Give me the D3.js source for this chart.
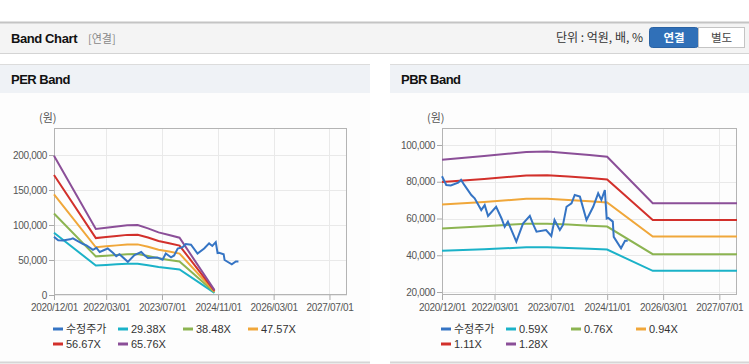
<!DOCTYPE html>
<html>
<head>
<meta charset="utf-8">
<script src="https://cdn.jsdelivr.net/npm/d3@7"></script>
<style>
  body { margin: 0; background: #fff; }
  svg { display: block; }
  .tick text { font-family: "Liberation Sans", Arial, sans-serif; font-size: 10px; fill: #555; letter-spacing: -0.3px; }
</style>
</head>
<body>
<svg id="chart" width="749" height="364"></svg>
<script>
const parse = d3.timeParse('%Y-%m-%d');

// 수정주가 - same series in both panels
const priceDates = ['2020-12-01','2021-01-07','2021-02-15','2021-04-20','2021-05-15','2021-06-15',
  '2021-08-12','2021-09-10','2021-11-06','2021-12-06','2022-01-04','2022-03-15','2022-05-01',
  '2022-05-28','2022-06-25','2022-09-06','2022-11-03','2023-01-01','2023-02-01','2023-02-28',
  '2023-05-22','2023-07-06','2023-08-03','2023-09-18','2023-10-15','2023-11-15','2023-12-28',
  '2024-01-25','2024-03-10','2024-05-06','2024-07-03','2024-08-15','2024-09-12','2024-10-12',
  '2024-10-28','2024-11-10','2024-12-20','2024-12-28','2025-03-01','2025-04-05','2025-04-28'];
const priceValues = [83000, 78200, 78000, 79500, 81000, 78000,
  72800, 71000, 64600, 67300, 61400, 66400, 60000,
  55500, 58300, 47400, 57200, 61400, 56500, 52800,
  53700, 50500, 59200, 53700, 56500, 66400, 68300,
  72800, 71900, 59200, 66400, 73700, 70100, 75500,
  60000, 60300, 58300, 50000, 43800, 47900, 47900];

// PER band
const perDates = ['2020-12-01','2021-12-01','2022-03-01','2022-06-01','2022-09-01','2022-12-01',
  '2023-03-01','2023-06-01','2023-09-01','2023-12-01','2024-10-01'];
const perLabels = ['29.38X', '38.48X', '47.57X', '56.67X', '65.76X'];
const per2938 = [88900, 42100, 42900, 43800, 44500, 44700, 42500, 40000, 38300, 36600, 3100];
const per3848 = [116400, 55200, 56200, 57300, 58300, 58500, 55700, 52400, 50100, 47900, 4100];
const per4757 = [143900, 68200, 69500, 70900, 72100, 72300, 68900, 64700, 62000, 59200, 5000];
const per5667 = [171500, 81300, 82700, 84400, 85900, 86100, 82100, 77100, 73800, 70600, 6000];
const per6576 = [199000, 94300, 96000, 98000, 99600, 100000, 95200, 89500, 85700, 81900, 7000];
const perYTicks = [0, 50000, 100000, 150000, 200000];

// PBR band
const pbrDates = ['2020-12-01','2021-12-01','2022-12-01','2023-06-01','2023-12-01','2024-06-01',
  '2024-11-01','2025-12-01','2027-12-01'];
const pbrLabels = ['0.59X', '0.76X', '0.94X', '1.11X', '1.28X'];
const pbr059 = [42400, 43300, 44300, 44400, 44000, 43600, 43100, 31500, 31500];
const pbr076 = [54600, 55800, 57100, 57200, 56700, 56100, 55600, 40600, 40600];
const pbr094 = [67600, 69000, 70700, 70800, 70100, 69400, 68700, 50200, 50200];
const pbr111 = [79800, 81500, 83400, 83600, 82800, 82000, 81200, 59200, 59200];
const pbr128 = [92000, 94000, 96200, 96400, 95500, 94500, 93600, 68300, 68300];
const pbrYTicks = [20000, 40000, 60000, 80000, 100000];

const xTicks = ['2020-12-01', '2022-03-01', '2023-07-01', '2024-11-01', '2026-03-01', '2027-07-01'];
const xDomain = ['2020-12-01', '2027-12-01'];

const priceColor = '#3574c4';
const bandColors = ['#1bb2c8', '#8cb451', '#f0a73a', '#d2302b', '#8b4f98'];

const svg = d3.select('#chart');
const kr = '"Noto Sans CJK KR", "Noto Sans", sans-serif';
const latin = '"Liberation Sans", Arial, sans-serif';

// top header bar
svg.append('rect').attr('x', 0).attr('y', 22).attr('width', 749).attr('height', 31).attr('fill', '#f4f4f4');
svg.append('line').attr('x1', 0).attr('x2', 749).attr('y1', 22.5).attr('y2', 22.5)
  .attr('stroke', '#c4c4c4').attr('stroke-width', 2);
svg.append('line').attr('x1', 0).attr('x2', 749).attr('y1', 53.5).attr('y2', 53.5)
  .attr('stroke', '#d4d4d4');
svg.append('text').attr('x', 11).attr('y', 43).text('Band Chart')
  .style('font-family', latin).style('font-weight', 'bold').style('font-size', '13px')
  .style('letter-spacing', '-0.4px').attr('fill', '#111');
svg.append('text').attr('x', 88).attr('y', 43).text('[연결]')
  .style('font-family', kr).style('font-size', '11px').attr('fill', '#888');
svg.append('text').attr('x', 643).attr('y', 42).attr('text-anchor', 'end').text('단위 : 억원, 배, %')
  .style('font-family', kr).style('font-size', '12px').attr('fill', '#333');
svg.append('rect').attr('x', 649.5).attr('y', 27.5).attr('width', 49).attr('height', 20).attr('rx', 3)
  .attr('fill', '#3070b8').attr('stroke', '#2a62a3');
svg.append('text').attr('x', 674).attr('y', 42).attr('text-anchor', 'middle').text('연결')
  .style('font-family', kr).style('font-weight', 'bold').style('font-size', '11.5px').attr('fill', '#fff');
svg.append('rect').attr('x', 698.5).attr('y', 27.5).attr('width', 46).attr('height', 20)
  .attr('fill', '#fff').attr('stroke', '#c4c4c4');
svg.append('text').attr('x', 721.5).attr('y', 42).attr('text-anchor', 'middle').text('별도')
  .style('font-family', kr).style('font-size', '11.5px').attr('fill', '#444');

function drawPanel(opt) {
  const g = svg.append('g');

  // panel chrome
  g.append('rect').attr('x', opt.px).attr('y', 64).attr('width', opt.pw).attr('height', 299).attr('fill', '#fdfdfd');
  g.append('rect').attr('x', opt.px).attr('y', 64).attr('width', opt.pw).attr('height', 29).attr('fill', '#eff2f6');
  g.append('line').attr('x1', opt.px).attr('x2', opt.px + opt.pw).attr('y1', 64.5).attr('y2', 64.5)
    .attr('stroke', '#dcdcdc');
  g.append('line').attr('x1', opt.px).attr('x2', opt.px + opt.pw).attr('y1', 362.5).attr('y2', 362.5)
    .attr('stroke', '#d6d6d6').attr('stroke-width', 2);
  g.append('text').attr('x', opt.px + 11).attr('y', 84).text(opt.title)
    .style('font-family', latin).style('font-weight', 'bold').style('font-size', '13px')
    .style('letter-spacing', '-0.5px').attr('fill', '#111');

  const x = d3.scaleTime().domain(xDomain.map(parse)).range([opt.left, opt.right]);
  const y = d3.scaleLinear().domain(opt.yDomain).range([295, 128]);
  const tickDates = xTicks.map(parse);

  // grid
  g.append('g').selectAll('line').data(opt.yTicks).join('line')
    .attr('x1', opt.left).attr('x2', opt.right)
    .attr('y1', d => Math.round(y(d)) + 0.5).attr('y2', d => Math.round(y(d)) + 0.5)
    .attr('stroke', '#e9e9e9');
  g.append('g').selectAll('line').data(tickDates).join('line')
    .attr('x1', d => Math.round(x(d)) + 0.5).attr('x2', d => Math.round(x(d)) + 0.5)
    .attr('y1', 128).attr('y2', 295)
    .attr('stroke', '#e9e9e9');

  // axes
  const yAxis = d3.axisLeft(y).tickValues(opt.yTicks).tickFormat(d3.format(',')).tickSize(5).tickPadding(2);
  const ya = g.append('g').attr('transform', `translate(${opt.left},0)`).call(yAxis);
  ya.select('.domain').remove();
  ya.selectAll('.tick line').attr('stroke', '#aaa');

  const xAxis = d3.axisBottom(x).tickValues(tickDates).tickFormat(d3.timeFormat('%Y/%m/%d')).tickSize(5).tickPadding(4);
  const xa = g.append('g').attr('transform', 'translate(0,295)').call(xAxis);
  xa.select('.domain').remove();
  xa.selectAll('.tick line').attr('stroke', '#aaa');

  // frame
  g.append('rect').attr('x', opt.left + 0.5).attr('y', 128.5)
    .attr('width', opt.right - opt.left - 1).attr('height', 166)
    .attr('fill', 'none').attr('stroke', '#b4b4b4');

  g.append('text').attr('x', opt.left - 15).attr('y', 122).text('(원)')
    .style('font-family', kr).style('font-size', '11px').attr('fill', '#555');

  // lines
  const line = d3.line().x(d => x(d[0])).y(d => y(d[1]));
  opt.bands.forEach((vals, i) => {
    g.append('path')
      .datum(opt.bandDates.map((d, j) => [parse(d), vals[j]]))
      .attr('d', line).attr('fill', 'none')
      .attr('stroke', bandColors[i]).attr('stroke-width', 2);
  });
  g.append('path')
    .datum(priceDates.map((d, j) => [parse(d), priceValues[j]]))
    .attr('d', line).attr('fill', 'none')
    .attr('stroke', priceColor).attr('stroke-width', 2);

  // legend
  const items = [['수정주가', priceColor]].concat(opt.labels.map((l, i) => [l, bandColors[i]]));
  items.forEach((it, i) => {
    const lx = opt.left - 1 + (i % 4) * 65;
    const ly = i < 4 ? 329 : 344;
    g.append('line').attr('x1', lx).attr('x2', lx + 10).attr('y1', ly).attr('y2', ly)
      .attr('stroke', it[1]).attr('stroke-width', 3);
    g.append('text').attr('x', lx + 13).attr('y', ly + 4).text(it[0])
      .style('font-family', i === 0 ? kr : latin).style('font-size', '11px').attr('fill', '#333');
  });
}

drawPanel({
  px: 0, pw: 370, title: 'PER Band', left: 54, right: 347,
  yDomain: [0, 238600], yTicks: perYTicks,
  bandDates: perDates, bands: [per2938, per3848, per4757, per5667, per6576], labels: perLabels
});

drawPanel({
  px: 390, pw: 359, title: 'PBR Band', left: 442, right: 737,
  yDomain: [18370, 109250], yTicks: pbrYTicks,
  bandDates: pbrDates, bands: [pbr059, pbr076, pbr094, pbr111, pbr128], labels: pbrLabels
});
</script>
</body>
</html>
